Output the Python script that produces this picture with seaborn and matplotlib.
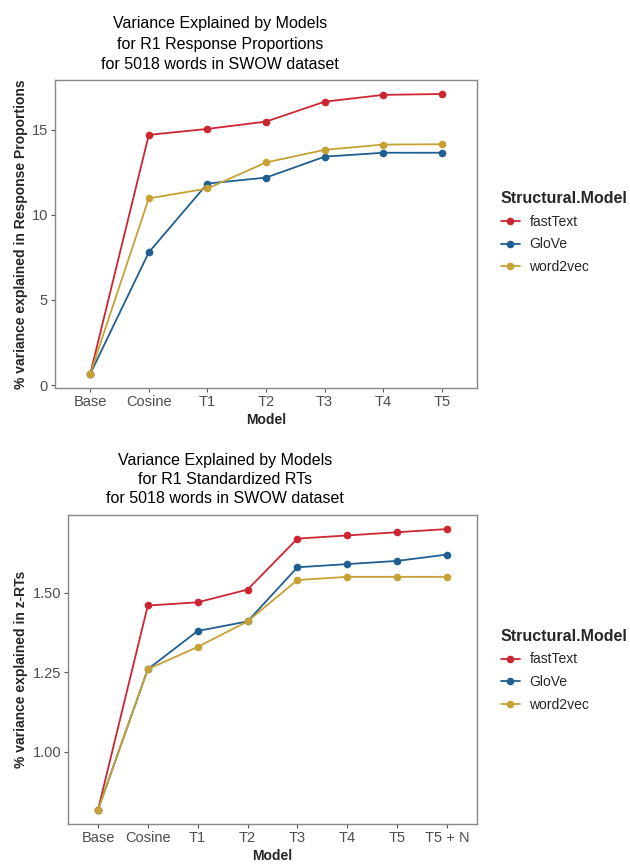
import matplotlib
matplotlib.use("Agg")
import matplotlib.pyplot as plt
import pandas as pd
import seaborn as sns

# panel 1: R1 response proportions
models_rp = ['Base', 'Cosine', 'T1', 'T2', 'T3', 'T4', 'T5']
fasttext_rp = [0.65, 14.7, 15.05, 15.48, 16.65, 17.05, 17.1]
glove_rp = [0.65, 7.8, 11.84, 12.19, 13.42, 13.65, 13.65]
word2vec_rp = [0.65, 10.97, 11.55, 13.08, 13.82, 14.13, 14.15]

# panel 2: R1 standardized RTs
models_rt = ['Base', 'Cosine', 'T1', 'T2', 'T3', 'T4', 'T5', 'T5 + N']
fasttext_rt = [0.818, 1.46, 1.47, 1.51, 1.67, 1.68, 1.69, 1.70]
glove_rt = [0.818, 1.26, 1.38, 1.41, 1.58, 1.59, 1.60, 1.62]
word2vec_rt = [0.818, 1.26, 1.33, 1.41, 1.54, 1.55, 1.55, 1.55]

series = ['fastText', 'GloVe', 'word2vec']
palette = {'fastText': '#CB2632', 'GloVe': '#1F5F92', 'word2vec': '#C6A234'}


def long_df(models, vals):
    rows = []
    for name, v in zip(series, vals):
        for m, y in zip(models, v):
            rows.append({'Model': m, 'value': y, 'Structural.Model': name})
    return pd.DataFrame(rows)


sns.set_theme(style="white")
plt.rcParams['font.family'] = ['Liberation Sans', 'DejaVu Sans']

fig = plt.figure(figsize=(6.3, 8.65), dpi=100)
ax1 = fig.add_axes([0.0873, 0.5514, 0.670, 0.3561])
ax2 = fig.add_axes([0.108, 0.0474, 0.649, 0.3572])

panels = [
    (ax1, models_rp, [fasttext_rp, glove_rp, word2vec_rp],
     'Variance Explained by Models\nfor R1 Response Proportions\nfor 5018 words in SWOW dataset',
     '% variance explained in Response Proportions', [0, 5, 10, 15], ['0', '5', '10', '15'],
     0.391, 8, 1.45, 0.779),
    (ax2, models_rt, [fasttext_rt, glove_rt, word2vec_rt],
     'Variance Explained by Models\nfor R1 Standardized RTs\nfor 5018 words in SWOW dataset',
     '% variance explained in z-RTs', [1.0, 1.25, 1.5], ['1.00', '1.25', '1.50'],
     0.384, 9, 1.3, 0.273),
]

for ax, models, vals, title, ylab, yt, ytl, tx, tpad, tls, leg_y in panels:
    df = long_df(models, vals)
    sns.lineplot(data=df, x='Model', y='value', hue='Structural.Model',
                 palette=palette, marker='o', markersize=5.5, markeredgewidth=0,
                 linewidth=1.3, ax=ax, sort=False)
    lo = min(min(v) for v in vals)
    hi = max(max(v) for v in vals)
    pad = (hi - lo) * 0.05
    ax.set_ylim(lo - pad, hi + pad)
    ax.set_xlim(-0.6, len(models) - 0.4)
    ax.set_yticks(yt)
    ax.set_yticklabels(ytl)
    ax.set_title(title, fontsize=11.5, pad=tpad, color='black', linespacing=tls, x=tx)
    ax.set_xlabel('Model', fontsize=10, fontweight='bold', labelpad=3)
    ax.set_ylabel(ylab, fontsize=10, fontweight='bold', labelpad=3)
    ax.tick_params(axis='both', which='both', length=3, width=0.8, color='#555555',
                   labelcolor='#4D4D4D', labelsize=10.5, pad=2, bottom=True, left=True)
    for sp in ax.spines.values():
        sp.set_color('#888888')
        sp.set_linewidth(1.0)
    ax.grid(False)
    h, l = ax.get_legend_handles_labels()
    ax.legend(h, l, title='Structural.Model', loc='upper left',
              bbox_to_anchor=(0.795, leg_y), bbox_transform=fig.transFigure,
              frameon=False, fontsize=10, handlelength=1.35, handletextpad=0.7,
              labelspacing=0.62, borderpad=0, borderaxespad=0, alignment='left',
              title_fontproperties={'weight': 'bold', 'size': 11.5})

fig.savefig('out.png', dpi=100)
